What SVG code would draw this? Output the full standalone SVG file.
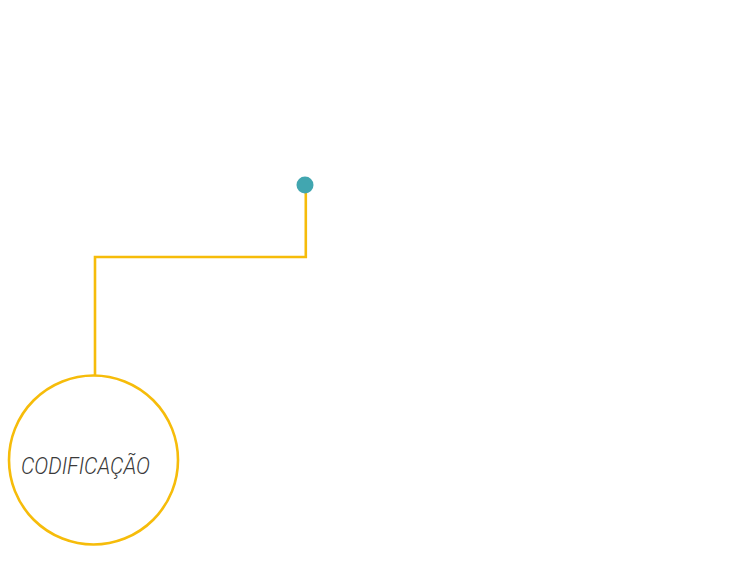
<svg xmlns="http://www.w3.org/2000/svg" width="750" height="572" viewBox="0 0 750 572">
<style>
.conn{fill:none;stroke:#F6BC0A;stroke-width:2.6}
.node{fill:#fff;stroke:#F6BC0A;stroke-width:2.6}
.lbl{font-family:Roboto,"Liberation Sans",sans-serif;font-style:italic;font-weight:300;font-size:24px;fill:#3a3a3a}
</style>
<rect width="750" height="572" fill="#fff"/>
<g id="connectors">
<polyline class="conn" points="305.8,190 305.8,257 95,257 95,377"/>
</g>
<g id="dot">
<circle cx="305" cy="185" r="8.5" fill="#41A6B0"/>
</g>
<g id="codificacao">
<circle class="node" cx="93.5" cy="460" r="84.5"/>
<text class="lbl" x="21" y="474" textLength="129" lengthAdjust="spacingAndGlyphs">CODIFICAÇÃO</text>
</g>
</svg>
